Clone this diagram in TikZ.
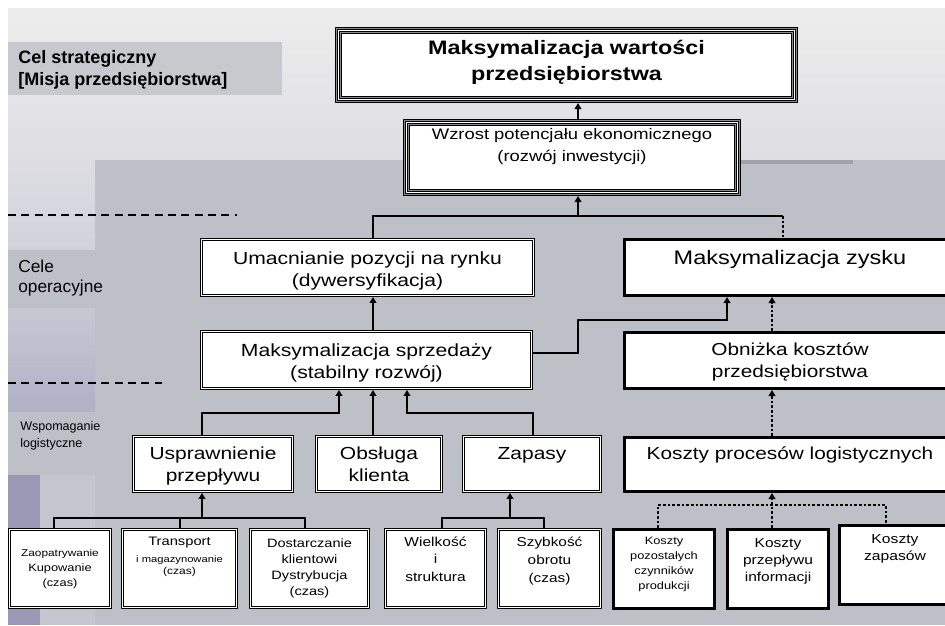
\documentclass[tikz,border=0pt]{standalone}
\usepackage{fontspec}
\setmainfont{Liberation Sans}
\newfontfamily\boxfont{Liberation Sans}[FakeStretch=1.2]
\usepackage{tikz}
\usetikzlibrary{arrows.meta, calc}

\definecolor{bgtopA}{RGB}{237,237,237}
\definecolor{bgtopB}{RGB}{222,222,226}
\definecolor{bgmain}{RGB}{190,192,200}
\definecolor{bglabel}{RGB}{200,201,206}
\definecolor{bgstripA}{RGB}{221,221,227}
\definecolor{bgstripB}{RGB}{210,210,219}
\definecolor{bgvioA}{RGB}{200,200,212}
\definecolor{bgvioB}{RGB}{176,176,198}
\definecolor{bgvio}{RGB}{153,153,182}
\definecolor{bglight}{RGB}{196,198,206}
\definecolor{bgedge}{RGB}{160,161,170}

\tikzset{
	celbox/.style={fill=white, draw=black, line width=5.25pt, inner sep=0pt,
		postaction={draw=black!45, line width=3.75pt},
		postaction={draw=black, line width=2.25pt},
		postaction={draw=white, line width=0.75pt}},
	dbox/.style={fill=white, draw=black, line width=0.6pt, double=white, double distance=1pt, inner sep=0pt, outer sep=1.1pt},
	tbox/.style={fill=white, draw=black, line width=2.25pt, inner sep=0pt},
	txt/.style={anchor=north, inner sep=0pt, align=center, yshift=#1},
	side/.style={anchor=north west, inner sep=0pt, align=left},
	link/.style={line width=2pt},
	arr/.style={link, -{Triangle[length=4.5pt, width=5pt]}},
	dots/.style={line width=2pt, dash pattern=on 2pt off 1.5pt},
	darr/.style={dots, -{Triangle[length=4.5pt, width=5pt]}},
	level/.style={line width=1.5pt, dash pattern=on 6pt off 4pt},
}

\begin{document}
\begin{tikzpicture}[x=0.75pt, y=-0.75pt]
		\useasboundingbox (0,0) rectangle (945,625);
		\clip (0,0) rectangle (945,625);
		
		% tlo
		\fill[white] (0,0) rectangle (945,625);
		\shade[top color=bgtopA, bottom color=bgtopB] (8,8) rectangle (945,160);
		\fill[bgmain] (95,160) rectangle (945,625);
		\shade[top color=bgstripA, bottom color=bgstripB] (8,160) rectangle (95,250);
		\fill[bgmain] (8,250) rectangle (95,308);
		\shade[top color=bgvioA, bottom color=bgvioB] (8,308) rectangle (95,412);
		\fill[bgmain] (8,412) rectangle (95,475);
		\fill[bglight] (40,475) rectangle (95,625);
		\fill[bgvio] (8,475) rectangle (40,625);
		\fill[bgedge] (740,160) rectangle (853,164);
		\fill[bglabel] (8,42) rectangle (282,95);
		
		\node[side, font=\bfseries\fontsize{13.5}{16.5}\selectfont] (strat) at (18,50) {Cel strategiczny\\{[Misja przedsiębiorstwa]}};
		\node[side, font=\fontsize{13}{15}\selectfont] (oper) at (18,260) {Cele\\operacyjne};
		\node[side, font=\fontsize{9.4}{12.75}\selectfont] (wsp) at (20,421) {Wspomaganie\\logistyczne};
		
		\draw[level] (8,215) -- (237,215);
		\draw[level] (8,383) -- (162,383);
		
		% cele
		\node[celbox, minimum width=342pt, minimum height=51.75pt,
			label={[txt=-9.4pt, font=\boxfont\bfseries\fontsize{14.6}{20}\selectfont]north:{Maksymalizacja wartości\\przedsiębiorstwa}}] (cel) at (566.5,65) {};
		\node[celbox, minimum width=248.25pt, minimum height=52.5pt,
			label={[txt=-7pt, font=\boxfont\fontsize{11.5}{16}\selectfont]north:{Wzrost potencjału ekonomicznego\\(rozwój inwestycji)}}] (wzrost) at (572,157.5) {};
		
		\node[dbox, minimum width=249pt, minimum height=42pt,
			label={[txt=-9.75pt, font=\boxfont\fontsize{13.2}{17}\selectfont]north:{Umacnianie pozycji na rynku\\(dywersyfikacja)}}] (umac) at (367.5,267.5) {};
		\node[tbox, minimum width=248.25pt, minimum height=42pt,
			label={[txt=-9pt, font=\boxfont\fontsize{14.7}{18}\selectfont]north:{Maksymalizacja zysku}}] (zysk) at (790,267.5) {};
		
		\node[dbox, minimum width=247.5pt, minimum height=42.75pt,
			label={[txt=-9.75pt, font=\boxfont\fontsize{13.2}{17}\selectfont]north:{Maksymalizacja sprzedaży\\(stabilny rozwój)}}] (sprz) at (366.5,360) {};
		\node[tbox, minimum width=248.25pt, minimum height=42pt,
			label={[txt=-8.25pt, font=\boxfont\fontsize{13}{17}\selectfont]north:{Obniżka kosztów\\przedsiębiorstwa}}] (obn) at (790,360.5) {};
		
		% wspomaganie logistyczne
		\node[dbox, minimum width=119.25pt, minimum height=41.25pt,
			label={[txt=-9pt, font=\boxfont\fontsize{13.1}{16.5}\selectfont]north:{Usprawnienie\\przepływu}}] (uspr) at (213,464) {};
		\node[dbox, minimum width=93.75pt, minimum height=41.25pt,
			label={[txt=-9pt, font=\boxfont\fontsize{13.1}{16.5}\selectfont]north:{Obsługa\\klienta}}] (obsl) at (379,464) {};
		\node[dbox, minimum width=102.75pt, minimum height=41.25pt,
			label={[txt=-9pt, font=\boxfont\fontsize{13.1}{16.5}\selectfont]north:{Zapasy}}] (zap) at (532,464) {};
		\node[tbox, minimum width=248.25pt, minimum height=40.5pt,
			label={[txt=-7.5pt, font=\boxfont\fontsize{13}{17}\selectfont]north:{Koszty procesów logistycznych}}] (proc) at (790,464.5) {};
		
		\node[dbox, minimum width=75.75pt, minimum height=58.5pt,
			label={[txt=-15.75pt, font=\boxfont\fontsize{8}{11.25}\selectfont]north:{{\fontsize{7.4}{11.25}\selectfont Zaopatrywanie}\\Kupowanie\\(czas)}}] (zaop) at (60,568.5) {};
		\node[dbox, minimum width=85.5pt, minimum height=58.5pt,
			label={[txt=-6.75pt, font=\boxfont\fontsize{9.2}{12.75}\selectfont]north:{Transport\\{\fontsize{7}{9}\selectfont i magazynowanie}\\[-3.75pt]{\fontsize{7.5}{9}\selectfont (czas)}}}] (trans) at (179.5,568.5) {};
		\node[dbox, minimum width=88.5pt, minimum height=58.5pt,
			label={[txt=-7.5pt, font=\boxfont\fontsize{9.1}{12}\selectfont]north:{Dostarczanie\\klientowi\\Dystrybucja\\(czas)}}] (dost) at (309.5,568.5) {};
		\node[dbox, minimum width=75pt, minimum height=58.5pt,
			label={[txt=-6.5pt, font=\boxfont\fontsize{9.7}{13}\selectfont]north:{Wielkość\\i\\struktura}}] (wielk) at (435.5,568.5) {};
		\node[dbox, minimum width=76.5pt, minimum height=58.5pt,
			label={[txt=-6.5pt, font=\boxfont\fontsize{9.6}{13.5}\selectfont]north:{Szybkość\\obrotu\\(czas)}}] (szyb) at (549.5,568.5) {};
		
		\node[tbox, minimum width=75.75pt, minimum height=59.25pt,
			label={[txt=-6.75pt, font=\boxfont\fontsize{8}{11.25}\selectfont]north:{Koszty\\pozostałych\\czynników\\produkcji}}] (pozost) at (664,569) {};
		\node[tbox, minimum width=75.75pt, minimum height=59.25pt,
			label={[txt=-7.5pt, font=\boxfont\fontsize{9.7}{13}\selectfont]north:{Koszty\\przepływu\\informacji}}] (przepl) at (778,569) {};
		\node[tbox, minimum width=83.25pt, minimum height=59.25pt,
			label={[txt=-7.9pt, font=\boxfont\fontsize{9.8}{12.75}\selectfont]north:{Koszty\\zapasów}}] (kzap) at (895,565) {};
		
		% polaczenia
		\coordinate (jtop) at (578,216);
		\coordinate (jdot) at (783,216);
		\draw[arr] (wzrost.north -| jtop) -- (cel.south -| jtop);
		\draw[arr] (jtop) -- (wzrost.south -| jtop);
		\draw[link] (umac.north -| 373,0) |- (jdot);
		\draw[dots] (jdot) -- (zysk.north -| jdot);
		
		\draw[arr] (sprz.north -| 373,0) -- (umac.south -| 373,0);
		\draw[arr] (sprz.east |- 0,353) -| (578,320) -| (zysk.south -| 727,0);
		\draw[darr] (obn.north -| 772,0) -- (zysk.south -| 772,0);
		\draw[darr] (proc.north -| 772,0) -- (obn.south -| 772,0);
		
		\draw[arr] (uspr.north -| 202,0) |- (339,413) -- (sprz.south -| 339,0);
		\draw[arr] (obsl.north -| 373,0) -- (sprz.south -| 373,0);
		\draw[arr] (zap.north -| 533,0) |- (407,413) -- (sprz.south -| 407,0);
		
		\coordinate (juspr) at (202,518);
		\draw[link] (zaop.north -| 54,0) |- (305,518) -- (dost.north -| 305,0);
		\draw[link] (trans.north -| 180,0) -- (180,518);
		\draw[arr] (juspr) -- (uspr.south -| juspr);
		
		\coordinate (jzap) at (510,518);
		\draw[link] (wielk.north -| 442,0) |- (544,518) -- (szyb.north -| 544,0);
		\draw[arr] (jzap) -- (zap.south -| jzap);
		
		\coordinate (jproc) at (772,505);
		\draw[dots] (pozost.north -| 658,0) |- (886,505) -- (kzap.north -| 886,0);
		\draw[dots] (przepl.north -| jproc) -- (jproc);
		\draw[darr] (jproc) -- (proc.south -| jproc);
	\end{tikzpicture}
\end{document}
